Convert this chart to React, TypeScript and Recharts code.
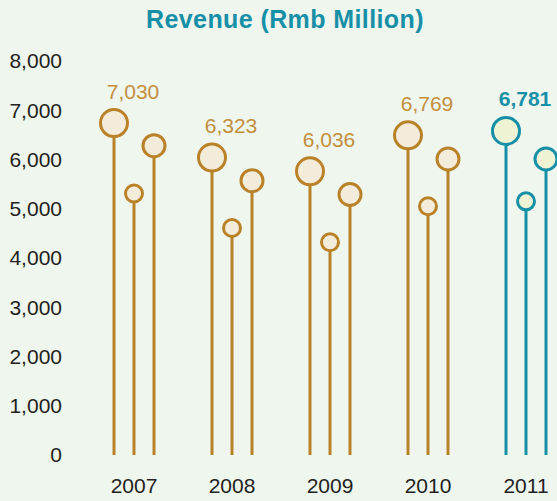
import { ComposedChart, Bar, XAxis, YAxis, LabelList } from "recharts"

const years = ["2007", "2008", "2009", "2010", "2011"]
const seriesA = [6740, 6040, 5760, 6490, 6580]
const seriesB = [5310, 4610, 4320, 5050, 5150]
const seriesC = [6280, 5570, 5290, 6010, 6010]
const revenueLabels = ["7,030", "6,323", "6,036", "6,769", "6,781"]
const yTicks = [0, 1000, 2000, 3000, 4000, 5000, 6000, 7000, 8000]
const highlightYear = "2011"

const GOLD = "#b98229"
const GOLD_FILL = "#f4ecda"
const GOLD_TEXT = "#c38f3d"
const TEAL = "#1790a7"
const TEAL_FILL = "#eef3d3"
const BG = "#eff6ee"

const data = years.map((year, i) => ({
  year,
  a: seriesA[i],
  b: seriesB[i],
  c: seriesC[i],
  label: revenueLabels[i],
}))

function lollipop(r: number) {
  return (props: any) => {
    const { x, y, width, height, payload } = props
    const hi = payload.year === highlightYear
    const cx = x + width / 2
    const stroke = hi ? TEAL : GOLD
    return (
      <g>
        <line x1={cx} x2={cx} y1={y} y2={y + height} stroke={stroke} strokeWidth={3} />
        <circle cx={cx} cy={y} r={r} fill={hi ? TEAL_FILL : GOLD_FILL} stroke={stroke} strokeWidth={3} />
      </g>
    )
  }
}

function renderLabel(props: any) {
  const { x, y, width, index } = props
  const hi = years[index] === highlightYear
  return (
    <text
      x={x + width / 2 + 19}
      y={y - 24.5}
      textAnchor="middle"
      fontSize={21}
      fontWeight={hi ? "bold" : "normal"}
      fill={hi ? TEAL : GOLD_TEXT}
      fontFamily="'Liberation Sans', Arial, sans-serif"
    >
      {revenueLabels[index]}
    </text>
  )
}

export default function App() {
  return (
    <div
      style={{
        position: "absolute",
        left: 0,
        top: 0,
        width: 557,
        height: 501,
        overflow: "hidden",
        background: BG,
        fontFamily: "'Liberation Sans', Arial, sans-serif",
      }}
    >
      <div
        style={{
          position: "absolute",
          top: 5,
          left: 0,
          width: 570,
          textAlign: "center",
          fontSize: 25,
          fontWeight: "bold",
          letterSpacing: 0.4,
          color: TEAL,
        }}
      >
        Revenue (Rmb Million)
      </div>
      <ComposedChart
        width={580}
        height={501}
        data={data}
        margin={{ top: 61, right: 5, left: 0, bottom: 0 }}
        barGap={0}
        barSize={20}
      >
        <XAxis
          dataKey="year"
          axisLine={false}
          tickLine={false}
          tickSize={0}
          tickMargin={23}
          height={46}
          interval={0}
          tick={{ fontSize: 21, fill: "#231f20" }}
        />
        <YAxis
          domain={[0, 8000]}
          ticks={yTicks}
          axisLine={false}
          tickLine={false}
          tickSize={0}
          tickMargin={23}
          width={85}
          tick={{ fontSize: 21, fill: "#231f20" }}
          tickFormatter={(v: number) => v.toLocaleString("en-US")}
        />
        <Bar dataKey="a" shape={lollipop(13.5)} isAnimationActive={false}>
          <LabelList dataKey="label" content={renderLabel} />
        </Bar>
        <Bar dataKey="b" shape={lollipop(8.5)} isAnimationActive={false} />
        <Bar dataKey="c" shape={lollipop(11)} isAnimationActive={false} />
      </ComposedChart>
    </div>
  )
}
